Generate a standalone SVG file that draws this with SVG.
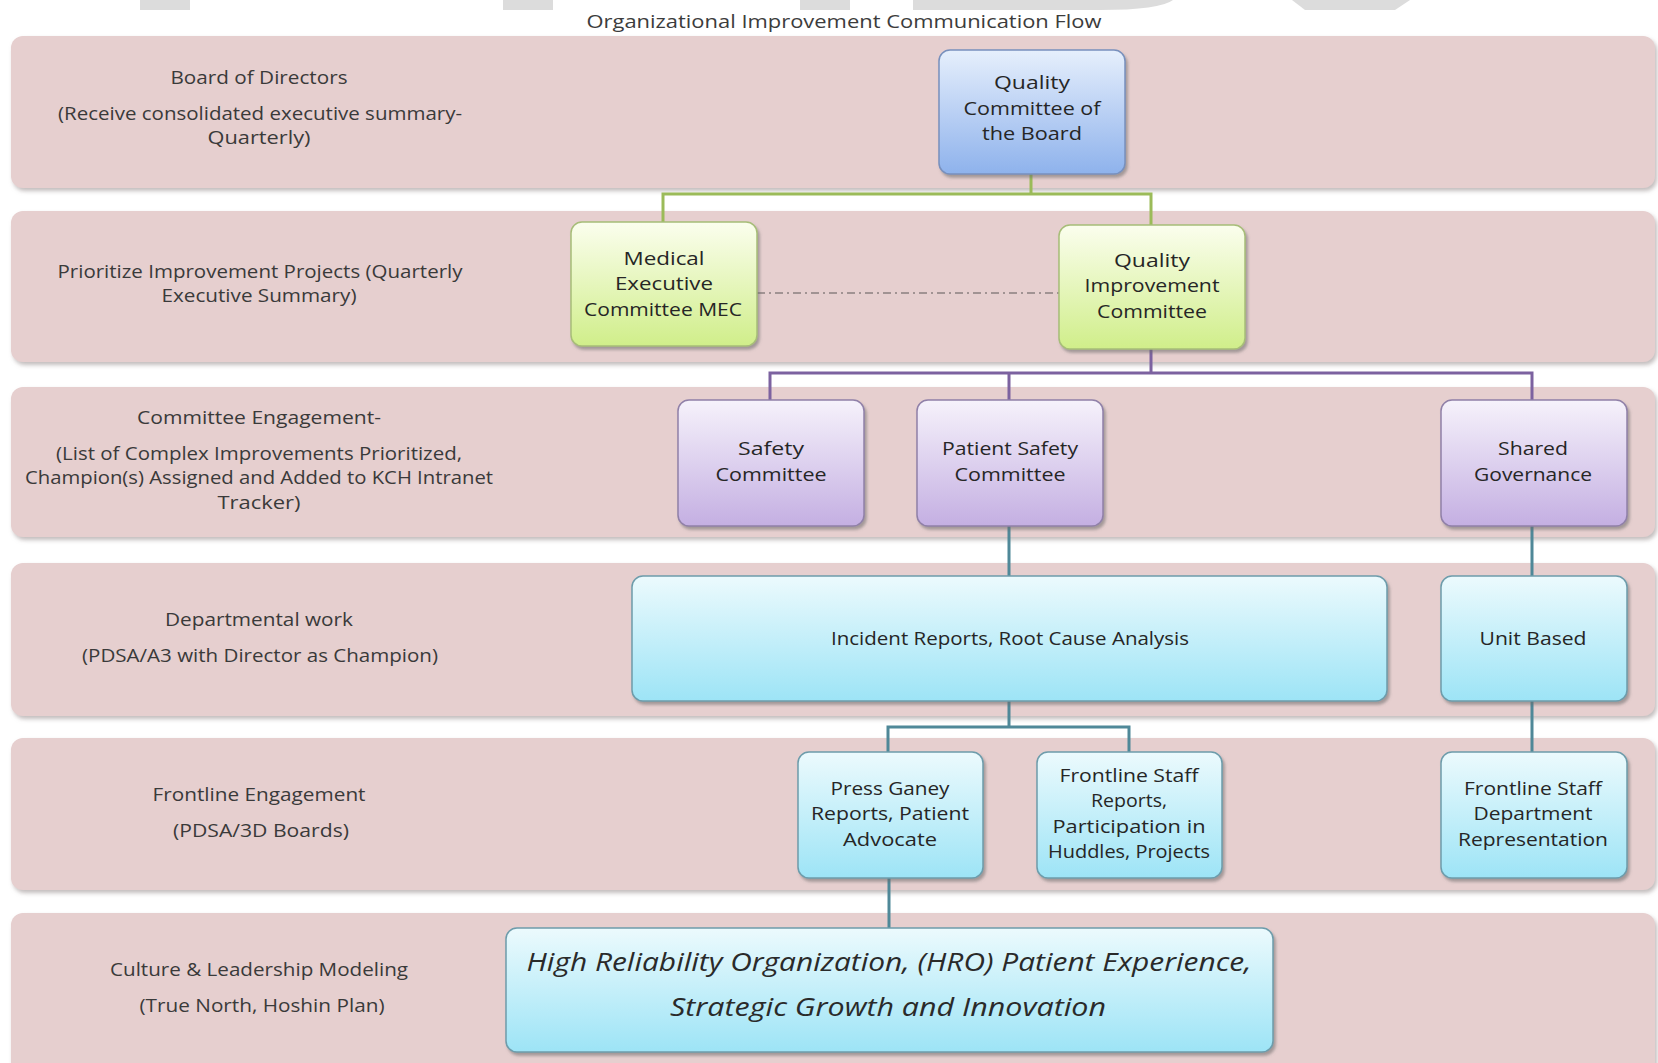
<svg xmlns="http://www.w3.org/2000/svg" width="1658" height="1063" viewBox="0 0 1658 1063">
<defs>
  <linearGradient id="gBlue" x1="0" y1="0" x2="0" y2="1"><stop offset="0" stop-color="#e6effc"/><stop offset="1" stop-color="#8eb2ec"/></linearGradient>
  <linearGradient id="gGreen" x1="0" y1="0" x2="0" y2="1"><stop offset="0" stop-color="#fbfeee"/><stop offset="1" stop-color="#d0ee8a"/></linearGradient>
  <linearGradient id="gPurple" x1="0" y1="0" x2="0" y2="1"><stop offset="0" stop-color="#f6f2fb"/><stop offset="1" stop-color="#c4afe2"/></linearGradient>
  <linearGradient id="gCyan" x1="0" y1="0" x2="0" y2="1"><stop offset="0" stop-color="#ecfafd"/><stop offset="1" stop-color="#9de4f6"/></linearGradient>
  <filter id="shBand" x="-2%" y="-5%" width="104%" height="115%">
    <feDropShadow dx="2" dy="3" stdDeviation="2" flood-color="#9a9090" flood-opacity="0.6"/>
  </filter>
  <filter id="shNode" x="-5%" y="-5%" width="115%" height="115%">
    <feDropShadow dx="2" dy="3" stdDeviation="1.8" flood-color="#6a6a6a" flood-opacity="0.55"/>
  </filter>
</defs>
<style>
  .band { fill:#e6cfcf; filter:url(#shBand); }
  .lbl { font-family:"Open Sans","Liberation Sans",sans-serif; font-size:18px; fill:#3a3a3a; text-anchor:middle; }
  .nt { font-family:"Open Sans","Liberation Sans",sans-serif; font-size:18px; fill:#262626; text-anchor:middle; }
  .title { font-family:"Open Sans","Liberation Sans",sans-serif; font-size:18px; fill:#3c3c3c; text-anchor:middle; }
  .hro { font-family:"Open Sans","Liberation Sans",sans-serif; font-size:25px; font-style:italic; fill:#2a2a2a; text-anchor:middle; }
  .blue { fill:url(#gBlue); stroke:#7890bd; stroke-width:1.5; filter:url(#shNode); }
  .green { fill:url(#gGreen); stroke:#a7bd78; stroke-width:1.5; filter:url(#shNode); }
  .purple { fill:url(#gPurple); stroke:#9080a8; stroke-width:1.5; filter:url(#shNode); }
  .cyan { fill:url(#gCyan); stroke:#6d9cab; stroke-width:1.5; filter:url(#shNode); }
  .cg { fill:none; stroke:#9bbb59; stroke-width:3; }
  .cp { fill:none; stroke:#7c62a0; stroke-width:3; }
  .ct { fill:none; stroke:#4f8898; stroke-width:3; }
  .cd { fill:none; stroke:#8a8080; stroke-width:1.5; stroke-dasharray:8 4 2 4; }
  .wm { fill:#dcdcdc; }
</style>

<rect x="0" y="0" width="1658" height="1063" fill="#ffffff"/>

<g id="watermark">
  <rect class="wm" x="140" y="0" width="50" height="10"/>
  <rect class="wm" x="503" y="0" width="50" height="10"/>
  <rect class="wm" x="800" y="0" width="50" height="10"/>
  <path class="wm" d="M913,0 H1173 Q1160,10 1100,10 H913 Z"/>
  <path class="wm" d="M1292,0 H1410 L1395,10 H1305 Z"/>
</g>

<text class="title" x="844" y="28" textLength="515" lengthAdjust="spacingAndGlyphs">Organizational Improvement Communication Flow</text>

<g id="bands">
  <rect class="band" x="11" y="36" width="1644" height="152" rx="12"/>
  <rect class="band" x="11" y="211" width="1644" height="151" rx="12"/>
  <rect class="band" x="11" y="387" width="1644" height="150" rx="12"/>
  <rect class="band" x="11" y="563" width="1644" height="153" rx="12"/>
  <rect class="band" x="11" y="738" width="1644" height="152" rx="12"/>
  <rect class="band" x="11" y="913" width="1644" height="165" rx="12"/>
</g>

<g id="lane-labels">
  <text class="lbl" x="259" y="84" textLength="177" lengthAdjust="spacingAndGlyphs">Board of Directors</text>
  <text class="lbl" x="260" y="120" textLength="404" lengthAdjust="spacingAndGlyphs">(Receive consolidated executive summary-</text>
  <text class="lbl" x="259" y="144" textLength="103" lengthAdjust="spacingAndGlyphs">Quarterly)</text>

  <text class="lbl" x="260" y="278" textLength="405" lengthAdjust="spacingAndGlyphs">Prioritize Improvement Projects (Quarterly</text>
  <text class="lbl" x="259" y="302" textLength="195" lengthAdjust="spacingAndGlyphs">Executive Summary)</text>

  <text class="lbl" x="259" y="424" textLength="244" lengthAdjust="spacingAndGlyphs">Committee Engagement-</text>
  <text class="lbl" x="259" y="460" textLength="406" lengthAdjust="spacingAndGlyphs">(List of Complex Improvements Prioritized,</text>
  <text class="lbl" x="259" y="484" textLength="468" lengthAdjust="spacingAndGlyphs">Champion(s) Assigned and Added to KCH Intranet</text>
  <text class="lbl" x="259" y="509" textLength="83" lengthAdjust="spacingAndGlyphs">Tracker)</text>

  <text class="lbl" x="259" y="626" textLength="188" lengthAdjust="spacingAndGlyphs">Departmental work</text>
  <text class="lbl" x="260" y="662" textLength="356" lengthAdjust="spacingAndGlyphs">(PDSA/A3 with Director as Champion)</text>

  <text class="lbl" x="259" y="801" textLength="213" lengthAdjust="spacingAndGlyphs">Frontline Engagement</text>
  <text class="lbl" x="261" y="837" textLength="176" lengthAdjust="spacingAndGlyphs">(PDSA/3D Boards)</text>

  <text class="lbl" x="259" y="976" textLength="298" lengthAdjust="spacingAndGlyphs">Culture &amp; Leadership Modeling</text>
  <text class="lbl" x="262" y="1012" textLength="245" lengthAdjust="spacingAndGlyphs">(True North, Hoshin Plan)</text>
</g>

<g id="connectors">
  <path class="cg" d="M1031,174 V194 M663,222 V194 H1151 V225"/>
  <path class="cd" d="M757,293 H1059"/>
  <path class="cp" d="M1151,349 V373 M770,400 V373 H1532 V400 M1009,373 V400"/>
  <path class="ct" d="M1009,526 V576 M1532,526 V576"/>
  <path class="ct" d="M1009,701 V727 M888,752 V727 H1129 V752 M1532,701 V752"/>
  <path class="ct" d="M889,878 V928"/>
</g>

<g id="node-qcb">
  <rect class="blue" x="939" y="50" width="186" height="124" rx="11"/>
  <text class="nt" x="1032" y="89" textLength="76" lengthAdjust="spacingAndGlyphs">Quality</text>
  <text class="nt" x="1032" y="115" textLength="137" lengthAdjust="spacingAndGlyphs">Committee of</text>
  <text class="nt" x="1032" y="140" textLength="100" lengthAdjust="spacingAndGlyphs">the Board</text>
</g>

<g id="node-mec">
  <rect class="green" x="571" y="222" width="186" height="124" rx="11"/>
  <text class="nt" x="664" y="265" textLength="81" lengthAdjust="spacingAndGlyphs">Medical</text>
  <text class="nt" x="664" y="290" textLength="98" lengthAdjust="spacingAndGlyphs">Executive</text>
  <text class="nt" x="663" y="316" textLength="158" lengthAdjust="spacingAndGlyphs">Committee MEC</text>
</g>

<g id="node-qic">
  <rect class="green" x="1059" y="225" width="186" height="124" rx="11"/>
  <text class="nt" x="1152" y="267" textLength="76" lengthAdjust="spacingAndGlyphs">Quality</text>
  <text class="nt" x="1152" y="292" textLength="135" lengthAdjust="spacingAndGlyphs">Improvement</text>
  <text class="nt" x="1152" y="318" textLength="110" lengthAdjust="spacingAndGlyphs">Committee</text>
</g>

<g id="node-safety">
  <rect class="purple" x="678" y="400" width="186" height="126" rx="11"/>
  <text class="nt" x="771" y="455" textLength="66" lengthAdjust="spacingAndGlyphs">Safety</text>
  <text class="nt" x="771" y="481" textLength="111" lengthAdjust="spacingAndGlyphs">Committee</text>
</g>

<g id="node-psc">
  <rect class="purple" x="917" y="400" width="186" height="126" rx="11"/>
  <text class="nt" x="1010" y="455" textLength="136" lengthAdjust="spacingAndGlyphs">Patient Safety</text>
  <text class="nt" x="1010" y="481" textLength="111" lengthAdjust="spacingAndGlyphs">Committee</text>
</g>

<g id="node-sg">
  <rect class="purple" x="1441" y="400" width="186" height="126" rx="11"/>
  <text class="nt" x="1533" y="455" textLength="70" lengthAdjust="spacingAndGlyphs">Shared</text>
  <text class="nt" x="1533" y="481" textLength="118" lengthAdjust="spacingAndGlyphs">Governance</text>
</g>

<g id="node-incident">
  <rect class="cyan" x="632" y="576" width="755" height="125" rx="11"/>
  <text class="nt" x="1010" y="645" textLength="358" lengthAdjust="spacingAndGlyphs">Incident Reports, Root Cause Analysis</text>
</g>

<g id="node-unit">
  <rect class="cyan" x="1441" y="576" width="186" height="125" rx="11"/>
  <text class="nt" x="1533" y="645" textLength="107" lengthAdjust="spacingAndGlyphs">Unit Based</text>
</g>

<g id="node-pressganey">
  <rect class="cyan" x="798" y="752" width="185" height="126" rx="11"/>
  <text class="nt" x="890" y="795" textLength="119" lengthAdjust="spacingAndGlyphs">Press Ganey</text>
  <text class="nt" x="890" y="820" textLength="158" lengthAdjust="spacingAndGlyphs">Reports, Patient</text>
  <text class="nt" x="890" y="846" textLength="94" lengthAdjust="spacingAndGlyphs">Advocate</text>
</g>

<g id="node-fsreports">
  <rect class="cyan" x="1037" y="752" width="185" height="126" rx="11"/>
  <text class="nt" x="1129" y="782" textLength="139" lengthAdjust="spacingAndGlyphs">Frontline Staff</text>
  <text class="nt" x="1129" y="807" textLength="76" lengthAdjust="spacingAndGlyphs">Reports,</text>
  <text class="nt" x="1129" y="833" textLength="153" lengthAdjust="spacingAndGlyphs">Participation in</text>
  <text class="nt" x="1129" y="858" textLength="162" lengthAdjust="spacingAndGlyphs">Huddles, Projects</text>
</g>

<g id="node-fsdept">
  <rect class="cyan" x="1441" y="752" width="186" height="126" rx="11"/>
  <text class="nt" x="1533" y="795" textLength="138" lengthAdjust="spacingAndGlyphs">Frontline Staff</text>
  <text class="nt" x="1533" y="820" textLength="119" lengthAdjust="spacingAndGlyphs">Department</text>
  <text class="nt" x="1533" y="846" textLength="150" lengthAdjust="spacingAndGlyphs">Representation</text>
</g>

<g id="node-hro">
  <rect class="cyan" x="506" y="928" width="767" height="124" rx="11"/>
  <text class="hro" x="889" y="971" textLength="725" lengthAdjust="spacingAndGlyphs">High Reliability Organization, (HRO) Patient Experience,</text>
  <text class="hro" x="888" y="1016" textLength="436" lengthAdjust="spacingAndGlyphs">Strategic Growth and Innovation</text>
</g>
</svg>
